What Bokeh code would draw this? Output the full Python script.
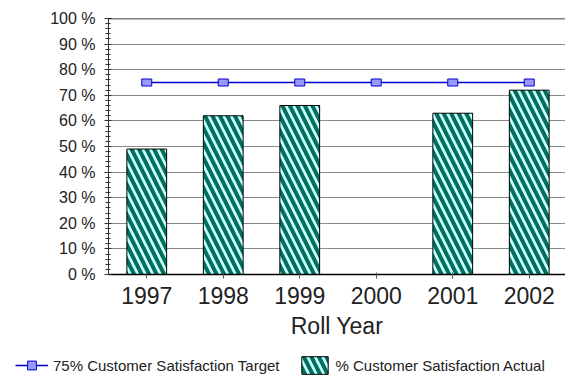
import numpy as np
from bokeh.plotting import figure
from bokeh.models import (Range1d, FixedTicker, PrintfTickFormatter, Legend, LegendItem,
                          ColumnDataSource, Span)
from bokeh.embed import file_html
from bokeh.resources import INLINE

# ---- data ----
years = ["1997", "1998", "1999", "2000", "2001", "2002"]
actual = [49, 62, 66, None, 63, 72]          # % Customer Satisfaction Actual (2000 missing)
target = [75, 75, 75, 75, 75, 75]            # 75% Customer Satisfaction Target
y_ticks = [0, 10, 20, 30, 40, 50, 60, 70, 80, 90, 100]

xpos = list(range(1, len(years) + 1))
actual_vals = [np.nan if v is None else v for v in actual]

src = ColumnDataSource(dict(x=xpos, actual=actual_vals, target=target))

BAR_STYLE = dict(fill_color="#ccffff", line_color="black", line_width=1,
                 hatch_pattern="\\", hatch_color="#00705c", hatch_scale=15, hatch_weight=4)
LINE_STYLE = dict(line_color="#0000cc", line_width=1.5)
MARK_STYLE = dict(fill_color="#9999ff", line_color="#0000cc", line_width=1)

p = figure(width=565, height=346, output_backend="svg", toolbar_location=None,
           x_range=Range1d(0.5, 6.474), y_range=Range1d(0, 100),
           min_border_left=108, min_border_right=0, min_border_top=18,
           min_border_bottom=72)
p.background_fill_color = "white"
p.border_fill_color = "white"
p.outline_line_color = None

# grid
p.xgrid.grid_line_color = None
p.ygrid.ticker = FixedTicker(ticks=y_ticks)
p.ygrid.grid_line_color = "#8a8a8a"
p.ygrid.grid_line_width = 1
p.add_layout(Span(location=100, dimension="width", line_color="black", line_width=1.5))

# bars
p.vbar(x="x", top="actual", bottom=0, width=0.52, source=src, **BAR_STYLE)

# target line + markers
p.line(x="x", y="target", source=src, **LINE_STYLE)
p.rect(x="x", y="target", width=10, height=7, width_units="screen", height_units="screen",
       source=src, **MARK_STYLE)

# y axis
yax = p.yaxis[0]
yax.ticker = FixedTicker(ticks=y_ticks, minor_ticks=list(range(0, 101, 2)))
yax.formatter = PrintfTickFormatter(format="%d %%")
yax.major_label_text_font = "Liberation Sans"
yax.major_label_text_font_size = "16px"
yax.major_label_text_color = "#222222"
yax.major_label_standoff = 9
yax.major_tick_in = 3
yax.major_tick_out = 4
yax.minor_tick_in = 2
yax.minor_tick_out = 3
yax.axis_line_color = "#333333"
yax.major_tick_line_color = "#333333"
yax.minor_tick_line_color = "#333333"

# x axis
xax = p.xaxis[0]
xax.ticker = FixedTicker(ticks=xpos)
xax.major_label_overrides = {i: y for i, y in zip(xpos, years)}
xax.major_label_text_font = "Liberation Sans"
xax.major_label_text_font_size = "23px"
xax.major_label_text_color = "#222222"
xax.major_label_standoff = 8
xax.major_tick_in = 2
xax.major_tick_out = 4
xax.minor_tick_line_color = None
xax.axis_line_color = "black"
xax.axis_line_width = 1.5
xax.major_tick_line_color = "#555555"
xax.axis_label = "Roll Year"
xax.axis_label_text_font = "Liberation Sans"
xax.axis_label_text_font_style = "normal"
xax.axis_label_text_font_size = "23px"
xax.axis_label_text_color = "#222222"
xax.axis_label_standoff = 6

# ---- legend strip (separate root so the legend can start at the left edge) ----
lf = figure(width=565, height=30, output_backend="svg", toolbar_location=None,
            x_range=Range1d(0, 1), y_range=Range1d(0, 1),
            x_axis_location=None, y_axis_location=None,
            min_border_left=0, min_border_right=0, min_border_top=0, min_border_bottom=0)
lf.grid.visible = False
lf.outline_line_color = None
lf.background_fill_color = "white"
lf.border_fill_color = "white"
l_line = lf.line(x="x", y="target", source=src, visible=False, **LINE_STYLE)
l_mark = lf.scatter(x="x", y="target", source=src, marker="square", visible=False, **MARK_STYLE)
l_bar = lf.vbar(x="x", top="actual", bottom=0, width=0.52, source=src, visible=False, **BAR_STYLE)

legend = Legend(items=[
    LegendItem(label="75% Customer Satisfaction Target", renderers=[l_line, l_mark]),
    LegendItem(label="% Customer Satisfaction Actual", renderers=[l_bar]),
], location=(15, 0), orientation="horizontal",
    glyph_width=33, glyph_height=22, label_standoff=5, spacing=18,
    padding=0, margin=0, border_line_color=None, background_fill_alpha=0,
    label_text_font="Liberation Sans", label_text_font_size="15px",
    label_text_color="#222222")
lf.add_layout(legend, "center")

open("out.html", "w").write(file_html([p, lf], INLINE))
